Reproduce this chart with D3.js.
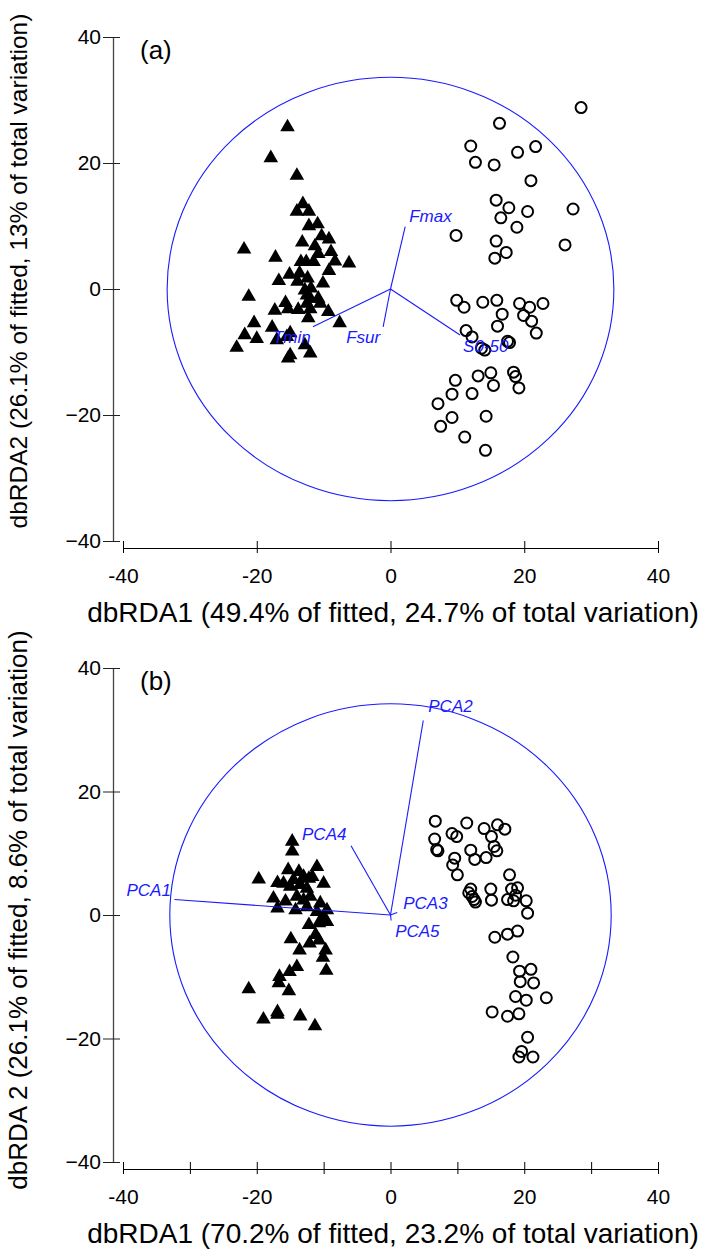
<!DOCTYPE html>
<html>
<head>
<meta charset="utf-8">
<script src="https://cdn.jsdelivr.net/npm/d3@7"></script>
<style>
  body { margin: 0; background: #fff; }
  svg { display: block; font-family: "Liberation Sans", Arial, sans-serif; }
</style>
</head>
<body>
<div id="chart"></div>
<script>
// panel (a) points
const trianglesA = [
  [-15.4, 25.7], [-17.9, 20.8], [-14.0, 18.0], [-13.1, 13.5], [-14.0, 12.3], [-12.2, 12.3],
  [-12.2, 10.0], [-10.9, 10.3], [-10.3, 8.4], [-9.2, 7.9], [-13.2, 7.4], [-11.3, 6.8],
  [-21.9, 6.3], [-17.2, 5.0], [-8.9, 5.9], [-10.8, 5.6], [-13.4, 4.3], [-12.6, 4.3],
  [-11.5, 4.3], [-8.3, 4.4], [-6.2, 4.1], [-15.1, 2.3], [-13.6, 2.5], [-9.2, 2.9],
  [-16.7, 1.3], [-12.4, 1.7], [-13.9, 1.2], [-10.1, 0.9], [-11.9, 0.1], [-12.8, -0.2],
  [-21.2, -1.2], [-12.5, -1.0], [-12.0, -1.5], [-10.8, -1.5], [-15.7, -2.2], [-12.5, -2.3],
  [-10.5, -2.3], [-17.3, -3.4], [-15.3, -3.2], [-13.8, -3.3], [-12.0, -3.2], [-9.3, -3.6],
  [-12.3, -4.6], [-20.4, -5.4], [-17.7, -6.1], [-7.6, -5.4], [-21.8, -7.3], [-20.0, -7.9],
  [-15.5, -7.6], [-17.0, -8.1], [-15.0, -7.0], [-23.0, -9.3], [-12.8, -8.9], [-15.0, -10.5],
  [-12.0, -10.2], [-15.3, -11.0]
];
const circlesA = [
  [28.5, 28.8], [16.3, 26.3], [12.0, 22.7], [21.7, 22.6], [19.0, 21.7], [12.7, 20.1],
  [15.5, 19.7], [21.0, 17.2], [15.8, 14.1], [17.7, 12.9], [20.5, 12.3], [27.3, 12.7],
  [16.5, 11.3], [18.9, 9.8], [9.8, 8.5], [15.8, 7.6], [17.3, 5.8], [15.6, 4.9],
  [26.1, 7.0], [9.9, -1.8], [11.0, -2.9], [13.8, -2.1], [15.9, -1.8], [19.3, -2.3],
  [20.8, -2.9], [22.8, -2.3], [16.7, -4.0], [19.9, -4.2], [21.1, -5.1], [16.0, -5.9],
  [21.8, -7.0], [11.3, -6.6], [12.2, -7.6], [17.8, -8.5], [17.5, -8.3], [13.6, -9.4],
  [14.1, -9.7], [18.4, -13.2], [18.7, -13.9], [15.0, -13.3], [13.1, -13.8], [9.7, -14.5],
  [15.4, -15.3], [19.2, -15.7], [9.2, -16.7], [12.2, -16.6], [7.1, -18.2], [14.3, -20.2],
  [9.2, -20.4], [7.5, -21.8], [11.1, -23.5], [14.2, -25.6]
];
const vectorNamesA = ["Fmax", "Fsur", "Tmin", "S0-50"];
const vectorXA = [2.2, -1.1, -11.6, 10.4];
const vectorYA = [9.9, -6.0, -6.0, -7.3];

// panel (b) points
const trianglesB = [
  [-14.7, 11.9], [-14.7, 10.3], [-15.3, 7.3], [-13.7, 7.0], [-11.0, 7.8], [-19.7, 5.8],
  [-16.9, 5.2], [-16.0, 5.1], [-14.5, 5.7], [-13.0, 6.2], [-12.2, 5.9], [-11.7, 6.2],
  [-10.0, 5.1], [-15.0, 4.6], [-13.5, 4.9], [-12.5, 4.3], [-17.5, 2.7], [-15.7, 2.2],
  [-14.0, 3.0], [-13.0, 2.4], [-12.0, 3.0], [-16.9, 1.1], [-14.2, 0.8], [-12.5, 1.3],
  [-10.5, 1.9], [-9.5, 0.8], [-11.0, 0.5], [-10.0, -0.3], [-12.2, -1.6], [-10.7, -1.3],
  [-9.5, -1.1], [-11.2, -3.2], [-14.9, -3.9], [-12.1, -4.6], [-10.7, -4.1], [-13.6, -5.7],
  [-9.7, -5.7], [-10.1, -6.9], [-14.0, -8.4], [-15.1, -9.2], [-16.6, -10.0], [-16.7, -11.0],
  [-9.6, -9.0], [-15.2, -12.3], [-21.2, -12.0], [-16.9, -15.7], [-16.9, -16.1], [-19.0, -16.9],
  [-13.5, -16.4], [-11.3, -18.0]
];
const circlesB = [
  [6.7, 15.2], [11.4, 14.9], [9.2, 13.2], [9.9, 12.7], [14.0, 14.0], [16.0, 14.6],
  [17.1, 13.9], [15.1, 12.7], [6.6, 12.3], [6.9, 10.6], [7.1, 10.4], [12.0, 10.5],
  [15.5, 11.1], [15.9, 10.4], [12.6, 9.0], [14.3, 9.3], [9.6, 9.2], [9.3, 8.1],
  [10.0, 6.5], [17.8, 6.5], [12.0, 4.2], [11.7, 3.6], [12.2, 3.0], [12.7, 2.1],
  [12.5, 2.5], [15.0, 4.2], [15.1, 2.4], [18.1, 4.2], [19.0, 4.4], [18.7, 3.2],
  [17.5, 2.5], [18.4, 2.3], [20.3, 2.3], [20.5, 0.3], [15.6, -3.6], [17.5, -3.1],
  [19.0, -2.6], [18.3, -6.8], [19.3, -9.1], [21.0, -8.8], [19.4, -10.8], [21.4, -11.0],
  [18.7, -13.2], [20.3, -13.8], [23.3, -13.4], [15.2, -15.7], [17.5, -16.4], [19.2, -16.0],
  [20.5, -19.8], [19.6, -22.1], [19.2, -23.0], [21.3, -23.0]
];
const vectorNamesB = ["PCA1", "PCA2", "PCA3", "PCA4", "PCA5"];
const vectorXB = [-32.3, 4.9, 1.0, -5.9, 0.1];
const vectorYB = [2.5, 31.5, 0.4, 11.2, -0.9];

// circle of correlation radius (x, y) in axis units
const radiusA = [33.4, 33.6];
const radiusB = [33.0, 34.2];

const xTickValues = [-40, -20, 0, 20, 40];
const xTickValuesMinor = [-40, -30, -20, -10, 0, 10, 20, 30, 40];
const yTickValues = [-40, -20, 0, 20, 40];

const xTitleA = "dbRDA1 (49.4% of fitted, 24.7% of total variation)";
const yTitleA = "dbRDA2 (26.1% of fitted, 13% of total variation)";
const xTitleB = "dbRDA1 (70.2% of fitted, 23.2% of total variation)";
const yTitleB = "dbRDA 2 (26.1% of fitted, 8.6% of total variation)";

const width = 715, height = 1256;
const blue = "#1a1aff";

const svg = d3.select("#chart").append("svg")
  .attr("width", width)
  .attr("height", height)
  .attr("viewBox", [0, 0, width, height]);

// label offsets in pixels from the arrow tips
const labelOffset = {
  "Fmax": [4, -5], "Fsur": [-37, 16], "Tmin": [-40, 16], "S0-50": [3, 17],
  "PCA1": [-48, -4], "PCA2": [5, -8], "PCA3": [6, -4], "PCA4": [-49, -6], "PCA5": [4, 16]
};

function drawPanel({tag, triangles, circles, names, vx, vy, radius, xTicks, xTitle, yTitle, yTitleSize, yTop, yBottom, yTitleCenter}) {
  const x = d3.scaleLinear().domain([-40, 40]).range([123, 658]);
  const y = d3.scaleLinear().domain([-40, 40]).range([yBottom, yTop]);
  const axisX = 113;
  const axisY = yBottom + 7;

  const g = svg.append("g");

  // y axis
  g.append("g")
    .attr("transform", `translate(${axisX},0)`)
    .call(d3.axisLeft(y).tickValues(yTickValues).tickSizeOuter(0).tickFormat(d3.format("d")))
    .call(a => a.select(".domain").attr("stroke", "#444").attr("stroke-width", 1.3))
    .call(a => a.selectAll(".tick line").attr("x1", 7).attr("x2", -10).attr("stroke", "#222"))
    .call(a => a.selectAll(".tick text")
      .attr("x", -12)
      .attr("font-size", 21)
      .attr("font-family", "Liberation Sans, Arial, sans-serif")
      .attr("fill", "#000"));

  // x axis
  g.append("g")
    .attr("transform", `translate(0,${axisY})`)
    .call(d3.axisBottom(x).tickValues(xTicks).tickSizeOuter(0)
      .tickFormat(d => d % 20 === 0 ? d : ""))
    .call(a => a.select(".domain").attr("stroke", "#000"))
    .call(a => a.selectAll(".tick line").attr("y1", -7).attr("y2", 5).attr("stroke", "#000"))
    .call(a => a.selectAll(".tick text")
      .attr("y", 20)
      .attr("font-size", 21)
      .attr("font-family", "Liberation Sans, Arial, sans-serif")
      .attr("fill", "#000"));

  // axis titles
  g.append("text")
    .attr("x", 393)
    .attr("y", axisY + 74)
    .attr("text-anchor", "middle")
    .attr("font-size", 28)
    .text(xTitle);

  g.append("text")
    .attr("transform", `translate(27,${yTitleCenter}) rotate(-90)`)
    .attr("text-anchor", "middle")
    .attr("font-size", yTitleSize)
    .text(yTitle);

  // panel tag
  g.append("text")
    .attr("x", 140)
    .attr("y", yTop + 22)
    .attr("font-size", 26)
    .text(tag);

  // circle
  g.append("ellipse")
    .attr("cx", x(0))
    .attr("cy", y(0))
    .attr("rx", x(radius[0]) - x(0))
    .attr("ry", y(0) - y(radius[1]))
    .attr("fill", "none")
    .attr("stroke", blue)
    .attr("stroke-width", 1.1);

  // triangles
  g.append("g")
    .selectAll("path")
    .data(triangles)
    .join("path")
    .attr("transform", d => `translate(${x(d[0])},${y(d[1])})`)
    .attr("d", d3.symbol(d3.symbolTriangle, 92))
    .attr("fill", "#000");

  // open circles
  g.append("g")
    .selectAll("circle")
    .data(circles)
    .join("circle")
    .attr("cx", d => x(d[0]))
    .attr("cy", d => y(d[1]))
    .attr("r", 5.5)
    .attr("fill", "none")
    .attr("stroke", "#000")
    .attr("stroke-width", 2);

  // vectors
  const I = d3.range(names.length);
  g.append("g")
    .selectAll("line")
    .data(I)
    .join("line")
    .attr("x1", x(0))
    .attr("y1", y(0))
    .attr("x2", i => x(vx[i]))
    .attr("y2", i => y(vy[i]))
    .attr("stroke", blue)
    .attr("stroke-width", 1.1);

  g.append("g")
    .selectAll("text")
    .data(I)
    .join("text")
    .attr("x", i => x(vx[i]) + labelOffset[names[i]][0])
    .attr("y", i => y(vy[i]) + labelOffset[names[i]][1])
    .attr("font-size", 17)
    .attr("font-style", "italic")
    .attr("fill", blue)
    .text(i => names[i]);
}

drawPanel({
  tag: "(a)", triangles: trianglesA, circles: circlesA,
  names: vectorNamesA, vx: vectorXA, vy: vectorYA, radius: radiusA,
  xTicks: xTickValues, xTitle: xTitleA, yTitle: yTitleA, yTitleSize: 24.5,
  yTop: 37, yBottom: 541, yTitleCenter: 271
});

drawPanel({
  tag: "(b)", triangles: trianglesB, circles: circlesB,
  names: vectorNamesB, vx: vectorXB, vy: vectorYB, radius: radiusB,
  xTicks: xTickValuesMinor, xTitle: xTitleB, yTitle: yTitleB, yTitleSize: 26,
  yTop: 668, yBottom: 1162, yTitleCenter: 910
});
</script>
</body>
</html>
